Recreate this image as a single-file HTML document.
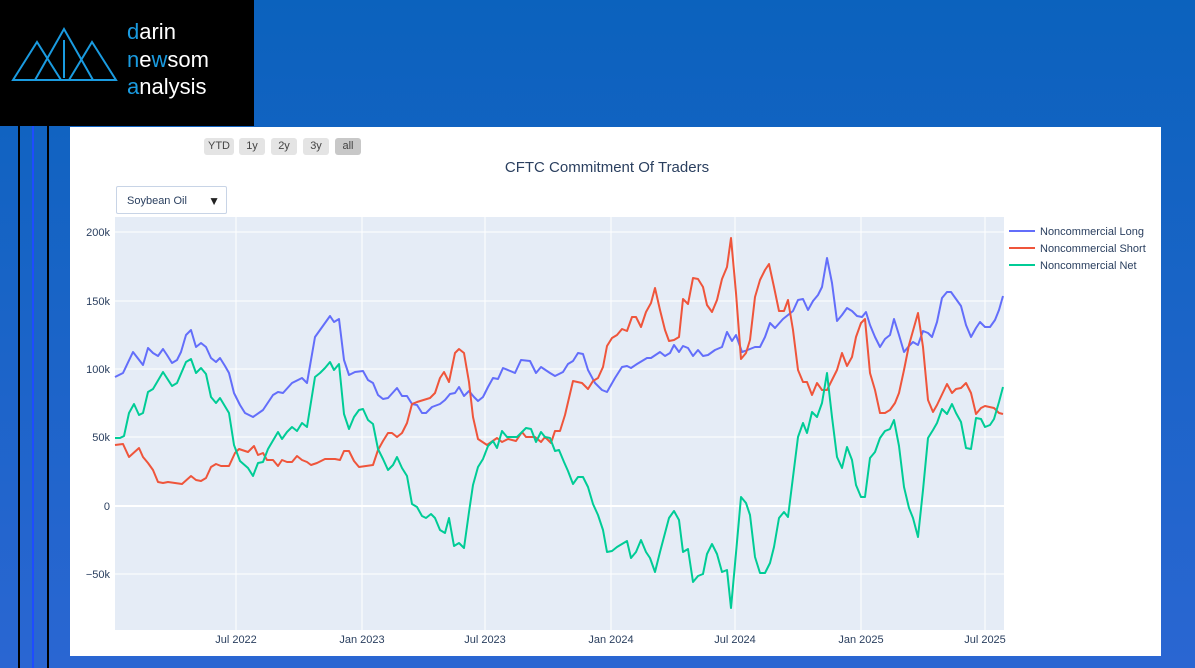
<!DOCTYPE html>
<html><head><meta charset="utf-8"><style>
body{margin:0;width:1195px;height:668px;overflow:hidden;background:linear-gradient(180deg,#0b62bd 0%,#2a66d2 100%);font-family:"Liberation Sans",sans-serif;position:relative}
.logo{position:absolute;left:0;top:0;width:254px;height:126px;background:#000}
.panel{position:absolute;left:70px;top:127px;width:1091px;height:529px;background:#fff}
.vl{position:absolute;top:126px;bottom:0;width:2px}
.btn{position:absolute;top:138px;height:17px;background:#e4e4e4;border-radius:3px;font-size:11px;color:#444;text-align:center;line-height:17px}
</style></head><body>
<div class="logo">
<svg width="254" height="126" viewBox="0 0 254 126">
<g fill="none" stroke="#1a9be0" stroke-width="2">
<polygon points="13,80 37,42 61,80"/><polygon points="35,80 64,29 93,80"/><polygon points="69,80 92,42 116,80"/>
<line x1="64" y1="40" x2="64" y2="78"/>
</g>
<text x="127" y="39" font-size="22" fill="#fff" font-family="Liberation Sans"><tspan fill="#1a9be0">d</tspan>arin</text>
<text x="127" y="67" font-size="22" fill="#fff" font-family="Liberation Sans"><tspan fill="#1a9be0">n</tspan>e<tspan fill="#1a9be0">w</tspan>som</text>
<text x="127" y="94" font-size="22" fill="#fff" font-family="Liberation Sans"><tspan fill="#1a9be0">a</tspan>nalysis</text>
</svg></div>
<div class="vl" style="left:18px;background:#000"></div>
<div class="vl" style="left:32px;background:#1e4cff"></div>
<div class="vl" style="left:47px;background:#000"></div>
<div class="panel"></div>
<div class="btn" style="left:204px;width:30px">YTD</div>
<div class="btn" style="left:239px;width:26px">1y</div>
<div class="btn" style="left:271px;width:26px">2y</div>
<div class="btn" style="left:303px;width:26px">3y</div>
<div class="btn" style="left:335px;width:26px;background:#c8c8c8">all</div>
<div style="position:absolute;left:116px;top:186px;width:111px;height:28px;border:1px solid #c8d4e6;border-radius:2px;background:#fff;font-size:11px;color:#2a3f5f;line-height:28px;box-sizing:border-box;padding-left:10px">Soybean Oil<span style="position:absolute;right:6px;font-size:12px;color:#222">▼</span></div>
<svg style="position:absolute;left:0;top:0" width="1195" height="668">
<text x="607" y="172" font-size="15" fill="#2a3f5f" text-anchor="middle">CFTC Commitment Of Traders</text>
<rect x="115" y="217" width="889" height="413" fill="#e5ecf6"/>
<g stroke="#fff" stroke-width="1">
<line x1="115" x2="1004" y1="232" y2="232"/><line x1="115" x2="1004" y1="301" y2="301"/><line x1="115" x2="1004" y1="369" y2="369"/><line x1="115" x2="1004" y1="437" y2="437"/><line x1="115" x2="1004" y1="574" y2="574"/>
<line x1="236" x2="236" y1="217" y2="630"/><line x1="362" x2="362" y1="217" y2="630"/><line x1="485" x2="485" y1="217" y2="630"/><line x1="611" x2="611" y1="217" y2="630"/><line x1="735" x2="735" y1="217" y2="630"/><line x1="861" x2="861" y1="217" y2="630"/><line x1="985" x2="985" y1="217" y2="630"/>
</g>
<line x1="115" x2="1004" y1="506" y2="506" stroke="#fff" stroke-width="2"/>
<g font-size="11" fill="#2a3f5f" text-anchor="end">
<text x="110" y="236">200k</text><text x="110" y="305">150k</text><text x="110" y="373">100k</text><text x="110" y="441">50k</text><text x="110" y="510">0</text><text x="110" y="578">−50k</text>
</g>
<g font-size="11" fill="#2a3f5f" text-anchor="middle">
<text x="236" y="643">Jul 2022</text><text x="362" y="643">Jan 2023</text><text x="485" y="643">Jul 2023</text><text x="611" y="643">Jan 2024</text><text x="735" y="643">Jul 2024</text><text x="861" y="643">Jan 2025</text><text x="985" y="643">Jul 2025</text>
</g>
<g fill="none" stroke-width="2" stroke-linejoin="round">
<polyline stroke="#636efa" points="115,377 123,373 133,352 143,365 148,348 153,353 158,356 163,349 167,355 172,363 177,360 181,352 186,335 191,330 196,347 201,343 206,347 211,358 216,362 220,358 225,366 229,373 234,393 240,405 245,413 253,417 263,410 273,395 278,392 283,393 292,383 302,378 307,383 315,337 330,316 334,322 339,319 344,360 349,375 355,372 363,371 368,380 373,383 378,395 383,399 388,398 397,388 402,396 407,396 412,404 417,405 422,413 426,413 432,407 440,404 445,400 450,394 455,393 459,387 464,396 469,391 474,397 478,401 483,397 488,387 493,378 498,379 503,368 515,373 521,360 530,361 536,373 541,367 550,373 555,376 563,372 568,364 573,361 578,353 583,354 588,370 595,383 602,390 607,392 615,378 622,367 627,366 631,368 637,364 647,358 651,358 660,352 665,356 670,353 674,345 679,352 683,346 688,348 693,356 698,350 703,356 708,355 715,350 722,347 727,332 732,341 736,335 742,352 745,351 755,347 760,347 765,337 770,323 775,328 783,319 793,311 798,300 803,299 808,310 813,301 818,295 822,287 827,258 832,283 837,321 842,315 847,308 852,311 857,316 862,317 866,312 870,325 875,337 880,347 885,339 890,335 894,319 899,335 904,352 909,346 913,342 918,345 923,331 928,333 932,337 937,322 942,298 947,292 951,292 956,299 961,306 966,325 971,337 976,328 980,322 985,327 990,327 995,320 999,310 1003,296"/>
<polyline stroke="#ef553b" points="115,445 123,444 129,457 139,448 143,457 148,463 153,470 158,482 163,483 168,482 182,484 191,476 196,480 201,481 206,478 211,467 216,464 221,466 229,466 235,453 239,449 248,452 254,446 258,455 263,453 267,460 273,460 278,466 282,460 287,462 292,462 297,456 302,460 307,462 311,465 317,463 325,459 335,459 340,460 344,451 349,451 354,461 359,467 373,465 378,450 383,441 388,433 392,433 397,437 402,433 407,423 412,404 417,402 430,398 435,393 440,378 444,372 449,382 455,353 459,349 464,353 469,382 473,417 478,439 487,445 497,438 502,442 508,439 516,441 522,432 526,437 535,437 541,442 545,437 551,443 555,431 560,431 565,415 573,381 582,383 588,389 593,381 598,378 603,367 607,346 612,338 617,335 622,329 627,331 632,317 636,317 641,327 646,312 651,303 655,288 660,310 665,330 669,341 674,340 679,337 683,299 688,304 693,278 698,279 703,287 707,305 712,312 717,300 722,279 727,267 731,238 736,293 741,359 746,353 750,340 755,297 760,280 765,270 769,264 774,287 779,311 784,311 788,300 793,330 798,370 803,382 807,382 812,395 817,383 822,390 827,390 832,380 837,370 842,353 847,366 852,357 856,337 861,323 865,319 870,373 875,390 880,413 885,413 890,410 895,403 899,393 904,370 909,345 918,313 923,347 928,400 933,412 937,405 947,384 952,393 956,389 961,388 966,383 971,393 976,414 981,408 985,406 994,408 999,413 1003,414"/>
<polyline stroke="#00cc96" points="115,438 120,438 124,436 129,413 134,404 139,415 143,413 148,392 153,389 163,372 172,386 177,383 186,362 191,359 196,373 201,368 206,374 211,397 216,403 220,398 229,413 234,445 240,461 248,468 253,476 258,463 263,462 268,449 278,432 282,439 287,432 292,427 297,431 302,423 307,427 315,377 320,373 325,368 330,362 334,370 339,364 344,414 349,429 354,417 359,410 363,409 368,420 373,424 378,449 383,459 388,470 393,465 397,457 402,468 407,476 412,504 417,507 422,516 426,518 431,514 435,518 440,530 445,533 449,518 454,546 459,543 464,548 469,512 473,485 478,467 483,459 488,446 493,441 497,448 502,431 507,437 517,437 526,428 531,429 536,442 541,432 545,437 550,438 555,451 559,450 564,462 568,471 573,484 578,477 583,477 588,487 593,504 598,515 603,530 607,552 612,551 617,547 627,541 631,558 636,552 641,540 646,552 650,558 655,572 660,552 669,518 674,511 679,520 683,552 688,549 693,582 698,576 703,574 707,554 712,544 717,554 722,572 727,570 731,608 736,553 741,497 746,503 750,515 755,557 760,573 765,573 770,563 774,547 779,518 784,512 788,517 793,477 798,437 803,423 807,433 812,412 817,417 822,403 827,373 832,417 837,457 842,468 847,447 852,460 856,485 861,497 865,497 870,458 875,452 880,438 885,431 890,429 894,420 899,446 904,487 909,508 913,518 918,537 923,490 928,438 933,430 937,423 942,409 947,414 952,404 956,413 961,422 966,448 971,449 976,418 981,419 985,427 990,425 994,419 999,402 1003,387"/>
</g>
<g font-size="11" fill="#2a3f5f">
<line x1="1009" x2="1035" y1="231" y2="231" stroke="#636efa" stroke-width="2"/><text x="1040" y="235">Noncommercial Long</text>
<line x1="1009" x2="1035" y1="248" y2="248" stroke="#ef553b" stroke-width="2"/><text x="1040" y="252">Noncommercial Short</text>
<line x1="1009" x2="1035" y1="265" y2="265" stroke="#00cc96" stroke-width="2"/><text x="1040" y="269">Noncommercial Net</text>
</g>
</svg>
</body></html>
